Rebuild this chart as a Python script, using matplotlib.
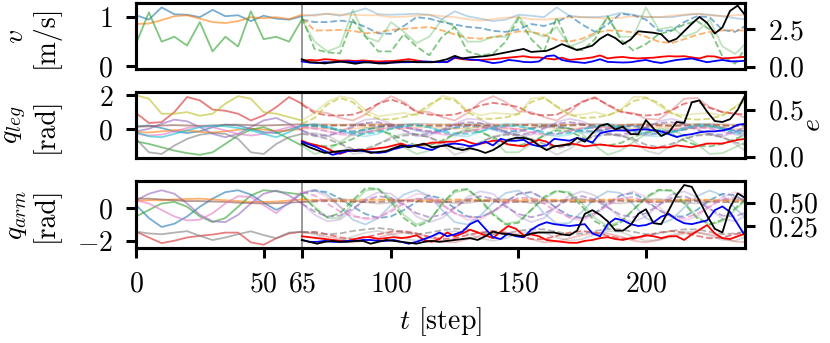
import numpy as np
import matplotlib
matplotlib.use("Agg")
import matplotlib.pyplot as plt

plt.rcParams.update({
    "font.family": "serif",
    "font.serif": ["cmr10"],
    "mathtext.fontset": "cm",
    "axes.formatter.use_mathtext": True,
    "font.size": 20,
    "axes.unicode_minus": True,
})

T_SPLIT = 65   # history / prediction boundary
STEP_Q = 5     # sampling step of joint / velocity curves
STEP_E = 3     # sampling step of error curves

# ---------------- v [m/s] (solid from t=0, dashed from t=65) ----------------
v_blue = [1.04, 0.95, 1.2, 1.06, 1.05, 1.0, 1.15, 1.02, 1.04, 0.92, 1.03, 0.97, 0.95,
          1.02, 1.05, 1.07, 1.03, 1.1, 1.18, 1.06, 1.05, 1.06, 1.07, 1.05, 0.96, 1.12,
          1.02, 0.97, 0.92, 0.95, 1.05, 1.03, 1.0, 1.2, 1.03, 1.0, 1.0, 1.02, 1.09, 1.05,
          1.0, 1.0, 1.0, 1.04, 1.07, 1.05, 1.02, 0.98, 0.95]
v_orange = [0.86, 0.87, 0.94, 1.02, 1.04, 0.97, 0.9, 0.88, 0.92, 1.0, 0.98, 1.0, 0.96,
            1.05, 1.03, 1.07, 1.05, 1.05, 1.04, 1.04, 1.0, 1.01, 1.03, 1.05, 1.02, 1.0,
            0.96, 0.93, 0.96, 0.99, 1.0, 0.96, 0.95, 0.97, 1.0, 1.0, 0.99, 0.97, 0.99, 1.02,
            1.01, 1.0, 1.03, 1.05, 1.07, 1.04, 1.02, 1.04, 1.05]
v_green = [0.46, 1.1, 0.5, 0.6, 0.42, 0.9, 0.3, 0.6, 0.4, 1.12, 0.55, 0.6, 0.5,
           0.95, 0.5, 0.3, 0.4, 1.15, 0.6, 0.5, 0.9, 0.7, 0.47, 0.6, 0.95, 0.8,
           0.5, 0.5, 0.6, 0.6, 1.02, 0.7, 0.6, 0.8, 0.4, 0.5, 0.65, 1.0, 0.6, 0.6,
           1.2, 0.75, 0.8, 0.6, 0.7, 0.95, 0.4, 0.25, 0.5]
v_blue_pred = [0.95, 0.9, 0.9, 0.93, 0.9, 0.8, 0.67, 0.66, 0.82, 1.0, 0.97, 0.9, 0.85,
               0.8, 0.78, 0.72, 0.7, 0.75, 0.86, 0.82, 0.9, 1.03, 0.85, 0.7, 0.85, 1.07,
               1.04, 0.95, 0.72, 0.73, 0.9, 1.02, 1.0, 0.74, 0.7, 0.85]
v_orange_pred = [0.98, 0.73, 0.73, 0.74, 0.72, 0.67, 0.69, 0.74, 0.76, 0.78, 0.8, 0.73,
                 0.65, 0.58, 0.56, 0.59, 0.64, 0.71, 0.7, 0.64, 0.53, 0.5, 0.56, 0.68,
                 0.73, 0.72, 0.69, 0.6, 0.5, 0.47, 0.55, 0.64, 0.7, 0.73, 0.73, 0.73]
v_green_pred = [1.0, 0.35, 0.28, 0.26, 0.95, 0.6, 0.3, 0.3, 0.65, 0.4, 0.22, 0.6, 0.8,
                0.3, 0.22, 0.25, 0.5, 0.98, 0.55, 0.3, 1.0, 0.4, 0.32, 0.55, 1.02, 0.55,
                0.32, 0.45, 0.65, 0.72, 0.85, 0.92, 0.75, 0.2, 0.05, 0.45]

# error e on the velocity panel (from t=65)
e_v_red = [0.40, 0.45, 0.42, 0.50, 0.46, 0.40, 0.42, 0.38, 0.42, 0.38,
           0.35, 0.37, 0.38, 0.44, 0.50, 0.42, 0.33, 0.30, 0.32, 0.30,
           0.58, 0.50, 0.45, 0.44, 0.47, 0.50, 0.55, 0.60, 0.65, 0.70,
           0.62, 0.62, 0.55, 0.48, 0.60, 0.45, 0.50, 0.55, 0.62, 0.75,
           0.55, 0.62, 0.65, 0.58, 0.55, 0.58, 0.60, 0.66, 0.70, 0.68,
           0.70, 0.62, 0.55, 0.70, 0.68, 0.55, 0.58, 0.62, 0.66]
e_v_blue = [0.35, 0.28, 0.25, 0.30, 0.28, 0.33, 0.35, 0.30, 0.33, 0.28,
            0.25, 0.28, 0.27, 0.30, 0.30, 0.33, 0.35, 0.33, 0.30, 0.32,
            0.62, 0.55, 0.48, 0.45, 0.35, 0.24, 0.30, 0.45, 0.40, 0.32,
            0.30, 0.35, 0.70, 0.75, 0.45, 0.35, 0.30, 0.25, 0.35, 0.50,
            0.32, 0.30, 0.28, 0.30, 0.38, 0.45, 0.32, 0.25, 0.35, 0.45,
            0.50, 0.55, 0.42, 0.30, 0.38, 0.45, 0.36, 0.36, 0.40]
e_v_black = [0.50, 0.30, 0.28, 0.22, 0.30, 0.35, 0.28, 0.20, 0.28, 0.30,
             0.22, 0.22, 0.30, 0.33, 0.35, 0.30, 0.30, 0.30, 0.38, 0.50,
             0.72, 0.55, 0.62, 0.66, 0.70, 0.78, 0.88, 0.98, 1.08, 1.18,
             0.98, 1.02, 1.05, 1.25, 1.50, 1.30, 1.10, 1.25, 1.40, 1.85,
             2.15, 1.90, 1.50, 1.80, 2.35, 2.30, 2.25, 2.15, 1.65, 1.85,
             2.35, 2.85, 3.30, 2.90, 2.20, 2.60, 3.70, 4.05, 3.40]

# ---------------- q_leg [rad] ----------------
leg_blue = [0.15, 0.2, 0.05, -0.15, -0.25, -0.15, 0.1, 0.25, 0.2, 0.0, -0.2, -0.25, -0.05,
            0.2, 0.25, 0.1, -0.15, -0.25, -0.1, 0.15, 0.25, 0.15, -0.1, -0.25, -0.15, 0.1,
            0.25, 0.2, -0.05, -0.25, -0.2, 0.05, 0.25, 0.2, 0.0, -0.2, -0.25, 0.0, 0.2, 0.25,
            0.05, -0.2, -0.25, -0.05, 0.2, 0.25, 0.1, -0.15, -0.2]
leg_orange = [-0.2, -0.22, -0.15, -0.08, -0.1, -0.18, -0.22, -0.15, -0.05, 0.0, -0.05, -0.12, -0.1,
              0.0, 0.05, 0.0, -0.05, 0.0, 0.1, 0.05, 0.0, 0.0, 0.08, 0.1, 0.05, 0.0,
              0.05, 0.1, 0.08, 0.0, 0.0, 0.08, 0.1, 0.05, 0.0, 0.05, 0.1, 0.08, 0.0, 0.02,
              0.08, 0.1, 0.05, 0.0, 0.05, 0.1, 0.08, 0.0, 0.02]
leg_green = [-0.75, -0.9, -1.1, -1.3, -1.45, -1.55, -1.4, -0.9, -0.4, -0.05, 0.1, -0.2, -0.6,
             -1.0, -1.5, -1.3, -0.8, -0.3, 0.05, 0.0, -0.4, -1.1, -1.5, -1.3, -0.8, -0.3,
             0.0, -0.1, -0.6, -1.4, -1.4, -0.9, -0.4, 0.0, 0.05, -0.3, -1.0, -1.55, -1.3, -0.8,
             -0.3, 0.0, -0.05, -0.4, -0.9, -1.5, -1.45, -1.1, -0.7]
leg_red = [0.94, 0.35, 0.4, 1.0, 1.9, 1.7, 1.15, 1.08, 0.9, 0.5, 0.8, 1.3, 1.9,
           1.5, 1.05, 0.95, 0.65, 0.5, 0.85, 1.5, 1.95, 1.6, 1.05, 1.0, 0.7, 0.5,
           0.95, 1.6, 1.95, 1.6, 1.05, 1.0, 0.7, 0.5, 0.95, 1.65, 1.9, 1.4, 1.0, 0.95,
           0.6, 0.55, 1.1, 1.8, 1.85, 1.3, 1.0, 0.9, 0.6]
leg_purple = [-0.15, 0.0, 0.3, 0.55, 0.45, 0.1, -0.3, -0.5, -0.3, 0.1, 0.5, 0.65, 0.3,
              -0.1, -0.45, -0.45, -0.2, 0.2, 0.55, 0.6, 0.3, -0.1, -0.45, -0.4, -0.1, 0.3,
              0.6, 0.55, 0.2, -0.2, -0.45, -0.35, 0.0, 0.4, 0.6, 0.45, 0.1, -0.3, -0.45, -0.3,
              0.05, 0.45, 0.6, 0.4, 0.0, -0.35, -0.45, -0.2, 0.2]
leg_brown = [0.12, 0.15, 0.2, 0.22, 0.2, 0.18, 0.2, 0.24, 0.25, 0.22, 0.2, 0.22, 0.25,
             0.27, 0.28, 0.26, 0.25, 0.27, 0.3, 0.28, 0.26, 0.27, 0.3, 0.29, 0.26, 0.26,
             0.29, 0.3, 0.27, 0.25, 0.27, 0.3, 0.29, 0.26, 0.26, 0.29, 0.3, 0.27, 0.25, 0.27,
             0.3, 0.29, 0.26, 0.26, 0.29, 0.3, 0.27, 0.25, 0.27]
leg_pink = [-0.3, -0.4, -0.35, -0.15, 0.05, 0.15, 0.1, -0.1, -0.3, -0.4, -0.3, -0.1, 0.1,
            0.15, 0.05, -0.15, -0.35, -0.4, -0.25, -0.05, 0.1, 0.15, 0.0, -0.2, -0.35, -0.4,
            -0.2, 0.0, 0.12, 0.12, -0.05, -0.25, -0.4, -0.35, -0.15, 0.05, 0.15, 0.1, -0.1, -0.3,
            -0.4, -0.3, -0.1, 0.1, 0.15, 0.05, -0.15, -0.35, -0.4]
leg_gray = [-0.6, -1.4, -1.5, -1.0, -0.6, -0.35, -0.25, -0.3, -0.6, -1.4, -1.5, -0.9, -0.5,
            -0.3, -0.25, -0.4, -0.8, -1.5, -1.4, -0.9, -0.5, -0.3, -0.3, -0.5, -0.9, -1.55,
            -1.3, -0.8, -0.45, -0.3, -0.35, -0.6, -1.1, -1.55, -1.2, -0.7, -0.4, -0.3, -0.4, -0.7,
            -1.3, -1.5, -1.0, -0.6, -0.35, -0.3, -0.5, -0.9, -1.4]
leg_olive = [2.0, 1.8, 0.9, 0.9, 1.0, 0.78, 0.9, 1.5, 1.95, 1.8, 1.0, 0.9, 0.7,
             0.5, 0.95, 1.6, 1.95, 1.8, 1.1, 0.75, 0.85, 0.95, 0.8, 1.3, 1.97, 1.8,
             1.1, 0.8, 0.95, 0.9, 0.85, 1.8, 1.9, 1.3, 0.85, 0.85, 1.0, 0.8, 1.1, 1.9,
             1.9, 1.4, 0.9, 0.82, 0.9, 0.95, 0.8, 1.3, 1.95]
leg_cyan = [-0.2, -0.45, -0.5, -0.3, -0.1, 0.1, 0.2, 0.15, 0.05, -0.1, -0.3, -0.5, -0.2,
            0.2, 0.3, 0.15, -0.1, -0.35, -0.45, -0.3, 0.0, 0.25, 0.3, 0.1, -0.2, -0.4,
            -0.45, -0.2, 0.1, 0.3, 0.25, 0.0, -0.3, -0.45, -0.35, -0.05, 0.2, 0.3, 0.15, -0.15,
            -0.4, -0.45, -0.25, 0.05, 0.28, 0.25, 0.0, -0.3, -0.45]

leg_blue_pred = [0.2, 0.15, 0.05, -0.1, -0.15, -0.05, 0.1, 0.15, 0.1, -0.05, -0.15, -0.1,
                 0.05, 0.15, 0.12, 0.0, -0.15, -0.12, 0.02, 0.15, 0.12, 0.0, -0.12, -0.15,
                 0.0, 0.12, 0.15, 0.05, -0.1, -0.15, -0.05, 0.1, 0.15, 0.05, -0.1, -0.12]
leg_orange_pred = [0.1, 0.22, 0.25, 0.22, 0.2, 0.22, 0.25, 0.25, 0.22, 0.2, 0.22, 0.25,
                   0.25, 0.22, 0.2, 0.22, 0.25, 0.25, 0.22, 0.2, 0.22, 0.25, 0.25, 0.22,
                   0.2, 0.22, 0.25, 0.25, 0.22, 0.2, 0.22, 0.25, 0.25, 0.22, 0.2, 0.22]
leg_green_pred = [-0.85, -0.95, -1.05, -0.9, -0.6, -0.2, -0.1, -0.3, -0.7, -1.0, -1.0, -0.7,
                  -0.3, -0.1, -0.2, -0.5, -0.9, -1.0, -0.8, -0.4, -0.1, -0.15, -0.5, -0.9,
                  -1.0, -0.85, -0.5, -0.2, -0.1, -0.3, -0.7, -1.0, -1.05, -0.9, -0.6, -0.3]
leg_red_pred = [1.45, 0.95, 0.8, 0.8, 0.85, 1.1, 1.5, 1.75, 1.5, 1.0, 0.85, 0.8,
                0.85, 1.1, 1.4, 1.55, 1.45, 1.3, 0.9, 0.8, 0.85, 1.2, 1.6, 1.85,
                1.45, 1.05, 0.88, 0.8, 0.85, 1.1, 1.5, 1.65, 1.25, 1.0, 0.9, 0.85]
leg_purple_pred = [-0.1, -0.35, -0.4, -0.2, 0.1, 0.35, 0.4, 0.2, -0.1, -0.35, -0.3, -0.05,
                   0.25, 0.4, 0.35, 0.1, -0.2, -0.35, -0.25, 0.05, 0.3, 0.4, 0.3, 0.0,
                   -0.25, -0.35, -0.2, 0.1, 0.35, 0.4, 0.25, -0.05, -0.3, -0.35, -0.15, 0.15]
leg_brown_pred = [0.25, 0.2, 0.18, 0.2, 0.22, 0.2, 0.17, 0.18, 0.22, 0.22, 0.18, 0.17,
                  0.2, 0.22, 0.2, 0.17, 0.18, 0.21, 0.22, 0.19, 0.17, 0.19, 0.22, 0.21,
                  0.18, 0.17, 0.2, 0.22, 0.2, 0.17, 0.18, 0.21, 0.22, 0.19, 0.17, 0.19]
leg_pink_pred = [0.1, 0.0, -0.15, -0.28, -0.3, -0.2, -0.05, 0.05, 0.08, -0.02, -0.15, -0.28,
                 -0.3, -0.15, 0.0, 0.08, 0.06, -0.05, -0.2, -0.3, -0.28, -0.12, 0.02, 0.08,
                 0.05, -0.08, -0.22, -0.3, -0.25, -0.08, 0.05, 0.08, 0.02, -0.12, -0.25, -0.3]
leg_gray_pred = [-0.3, -0.4, -0.6, -0.9, -1.2, -1.2, -0.9, -0.6, -0.4, -0.35, -0.5, -0.8,
                 -1.15, -1.1, -0.8, -0.5, -0.35, -0.4, -0.6, -0.9, -1.15, -1.0, -0.7, -0.45,
                 -0.35, -0.4, -0.6, -0.95, -1.1, -0.9, -0.6, -0.4, -0.35, -0.5, -0.8, -1.0]
leg_olive_pred = [0.3, 0.65, 1.45, 1.85, 1.6, 0.9, 0.6, 0.55, 0.7, 0.9, 1.45, 1.85,
                  1.7, 1.0, 0.6, 0.6, 0.68, 0.9, 1.6, 1.85, 1.35, 0.85, 0.65, 0.68,
                  0.8, 1.1, 1.65, 1.85, 1.55, 0.95, 0.62, 0.55, 0.6, 0.8, 1.3, 1.75]
leg_cyan_pred = [0.2, 0.2, 0.1, -0.05, -0.25, -0.3, -0.2, 0.0, 0.15, 0.2, 0.08, -0.12,
                 -0.28, -0.3, -0.15, 0.05, 0.18, 0.15, 0.0, -0.2, -0.3, -0.25, -0.05, 0.12,
                 0.2, 0.1, -0.1, -0.28, -0.3, -0.18, 0.02, 0.18, 0.15, 0.0, -0.2, -0.3]

e_leg_red = [0.17, 0.14, 0.12, 0.10, 0.06, 0.03, 0.06, 0.07, 0.07, 0.08,
             0.09, 0.10, 0.12, 0.14, 0.11, 0.12, 0.13, 0.15, 0.15, 0.16,
             0.16, 0.18, 0.15, 0.13, 0.15, 0.17, 0.17, 0.13, 0.12, 0.11,
             0.15, 0.18, 0.16, 0.11, 0.12, 0.14, 0.13, 0.11, 0.12, 0.13,
             0.12, 0.11, 0.11, 0.12, 0.11, 0.10, 0.09, 0.10, 0.10, 0.12,
             0.11, 0.10, 0.12, 0.14, 0.14, 0.14, 0.16, 0.18, 0.19]
e_leg_blue = [0.16, 0.13, 0.10, 0.06, 0.02, 0.04, 0.06, 0.07, 0.06, 0.05,
              0.04, 0.05, 0.08, 0.10, 0.12, 0.11, 0.09, 0.07, 0.11, 0.13,
              0.14, 0.13, 0.11, 0.13, 0.16, 0.12, 0.19, 0.17, 0.17, 0.18,
              0.13, 0.11, 0.12, 0.19, 0.18, 0.17, 0.20, 0.18, 0.15, 0.25,
              0.27, 0.28, 0.28, 0.28, 0.29, 0.29, 0.28, 0.27, 0.24, 0.21,
              0.23, 0.24, 0.26, 0.27, 0.27, 0.28, 0.30, 0.34, 0.35]
e_leg_black = [0.14, 0.10, 0.07, 0.04, 0.05, 0.06, 0.07, 0.06, 0.07, 0.04,
               0.05, 0.06, 0.09, 0.12, 0.10, 0.12, 0.14, 0.10, 0.11, 0.12,
               0.09, 0.07, 0.09, 0.07, 0.04, 0.07, 0.12, 0.18, 0.20, 0.20,
               0.18, 0.12, 0.07, 0.11, 0.12, 0.13, 0.20, 0.16, 0.25, 0.33,
               0.35, 0.29, 0.32, 0.24, 0.24, 0.39, 0.30, 0.22, 0.26, 0.37,
               0.36, 0.58, 0.60, 0.48, 0.38, 0.37, 0.40, 0.50, 0.66]

# ---------------- q_arm [rad] ----------------
arm_blue = [0.2, -0.6, -1.15, -0.95, -0.5, 0.1, 0.6, 1.0, 1.12, 0.85, 0.35, -0.1, 0.3,
            0.95, 1.15, 0.85, 0.1, -0.7, -1.0, -0.6, 0.2, 0.85, 1.13, 0.75, -0.1, -0.85,
            -1.0, -0.45, 0.35, 0.95, 1.1, 0.6, -0.3, -0.95, -0.9, -0.2, 0.6, 1.05, 0.95, 0.25,
            -0.6, -1.0, -0.7, 0.05, 0.75, 1.1, 0.8, 0.0, -0.7]
arm_orange = [0.47, 0.5, 0.5, 0.55, 0.58, 0.6, 0.55, 0.5, 0.45, 0.4, 0.4, 0.42, 0.48,
              0.55, 0.5, 0.48, 0.45, 0.44, 0.46, 0.5, 0.52, 0.5, 0.46, 0.44, 0.45, 0.48,
              0.52, 0.5, 0.47, 0.44, 0.45, 0.49, 0.52, 0.5, 0.46, 0.44, 0.46, 0.5, 0.52, 0.49,
              0.45, 0.44, 0.47, 0.51, 0.52, 0.48, 0.45, 0.45, 0.48]
arm_green = [-0.5, -0.1, 0.3, 0.4, 0.1, -0.5, -0.85, -0.6, 0.1, 0.8, 1.12, 1.05, 0.95,
             0.85, 0.1, -0.6, -0.6, 0.3, 1.1, 1.2, 0.6, -0.4, -1.0, -0.7, 0.2, 1.0,
             1.15, 0.6, -0.3, -0.95, -0.8, -0.1, 0.6, 1.05, 1.0, 0.3, -0.6, -1.1, -0.8, -0.1,
             0.6, 1.1, 1.1, 0.4, -0.5, -1.0, -0.8, -0.1, 0.6]
arm_red = [-1.44, -1.8, -2.15, -2.0, -1.8, -1.7, -1.62, -1.5, -1.5, -2.1, -2.25, -1.85, -1.55,
           -1.45, -1.55, -1.75, -1.9, -2.1, -2.0, -1.8, -1.6, -1.5, -1.55, -1.8, -2.05, -2.1,
           -1.9, -1.7, -1.55, -1.5, -1.65, -1.9, -2.1, -2.05, -1.85, -1.65, -1.5, -1.55, -1.75, -2.0,
           -2.1, -1.95, -1.75, -1.55, -1.5, -1.6, -1.85, -2.05, -2.1]
arm_purple = [0.5, 0.9, 1.12, 0.9, 0.3, -0.4, -0.8, -0.85, -0.4, 0.3, 0.9, 1.1, 0.8,
              0.3, -0.4, -0.8, -0.7, -0.1, 0.6, 1.0, 0.9, 0.3, -0.5, -0.85, -0.6, 0.0,
              0.7, 1.05, 0.9, 0.2, -0.5, -0.85, -0.6, 0.1, 0.8, 1.05, 0.8, 0.1, -0.6, -0.85,
              -0.5, 0.2, 0.85, 1.05, 0.7, 0.0, -0.65, -0.8, -0.4]
arm_brown = [0.6, 0.6, 0.55, 0.5, 0.45, 0.45, 0.42, 0.4, 0.35, 0.32, 0.3, 0.32, 0.35,
             0.4, 0.45, 0.55, 0.6, 0.5, 0.38, 0.3, 0.35, 0.48, 0.58, 0.55, 0.42, 0.32,
             0.33, 0.45, 0.57, 0.56, 0.44, 0.33, 0.32, 0.43, 0.56, 0.58, 0.46, 0.34, 0.31, 0.4,
             0.54, 0.58, 0.48, 0.35, 0.31, 0.38, 0.52, 0.58, 0.5]
arm_pink = [0.5, 0.3, -0.1, -0.5, -0.75, -0.7, -0.3, 0.3, 0.75, 0.7, 0.2, -0.3, 0.4,
            1.0, 1.1, 0.7, 0.1, -0.4, -0.7, -0.6, -0.1, 0.5, 0.9, 0.8, 0.3, -0.3,
            -0.7, -0.7, -0.2, 0.4, 0.9, 1.0, 0.6, 0.0, -0.6, -0.75, -0.4, 0.2, 0.8, 1.05,
            0.7, 0.1, -0.5, -0.75, -0.5, 0.1, 0.7, 1.0, 0.8]
arm_gray = [-1.44, -1.55, -1.6, -1.5, -1.41, -1.7, -1.96, -1.8, -1.6, -1.42, -1.65, -1.85, -1.5,
            -1.45, -1.6, -1.9, -2.0, -1.75, -1.5, -1.4, -1.6, -1.85, -2.0, -1.8, -1.55, -1.4,
            -1.55, -1.85, -2.0, -1.85, -1.55, -1.4, -1.5, -1.8, -2.0, -1.9, -1.6, -1.4, -1.45, -1.75,
            -2.0, -1.95, -1.65, -1.45, -1.45, -1.7, -1.95, -2.0, -1.7]

arm_blue_pred = [0.9, 1.1, 1.0, 0.6, 0.1, -0.35, -0.6, -0.5, -0.1, 0.4, 0.8, 0.6,
                 0.0, -0.5, -0.55, -0.2, 0.4, 0.9, 1.0, 0.6, 0.0, -0.45, -0.6, -0.3,
                 0.3, 0.8, 0.95, 0.5, -0.1, -0.5, -0.5, -0.1, 0.5, 0.9, 0.8, 0.3]
arm_orange_pred = [0.55, 0.52, 0.5, 0.5, 0.52, 0.54, 0.55, 0.53, 0.5, 0.49, 0.5, 0.53,
                   0.55, 0.54, 0.51, 0.49, 0.5, 0.52, 0.55, 0.55, 0.52, 0.5, 0.5, 0.52,
                   0.54, 0.55, 0.53, 0.5, 0.49, 0.51, 0.54, 0.55, 0.53, 0.5, 0.5, 0.52]
arm_green_pred = [0.85, 0.0, -0.55, -0.3, 0.5, 1.25, 1.2, 0.4, -0.6, -1.13, -0.8, 0.3,
                  1.1, 1.2, 0.5, -0.4, -1.0, -0.9, -0.1, 0.7, 1.1, 0.9, 0.1, -0.8,
                  -1.2, -0.9, -0.1, 0.7, 1.15, 1.1, 0.3, -0.6, -1.0, -0.7, 0.0, 0.7]
arm_red_pred = [-1.5, -1.45, -1.6, -1.8, -1.9, -1.8, -1.6, -1.45, -1.4, -1.55, -1.75, -1.9,
                -1.85, -1.65, -1.5, -1.4, -1.5, -1.7, -1.9, -1.9, -1.7, -1.5, -1.4, -1.5,
                -1.7, -1.85, -1.9, -1.7, -1.5, -1.4, -1.5, -1.7, -1.85, -1.8, -1.6, -1.45]
arm_purple_pred = [0.3, -0.2, -0.5, -0.45, 0.0, 0.5, 0.75, 0.65, 0.2, -0.3, -0.55, -0.4,
                   0.05, 0.55, 0.75, 0.6, 0.1, -0.35, -0.55, -0.35, 0.1, 0.6, 0.75, 0.55,
                   0.05, -0.4, -0.55, -0.3, 0.2, 0.65, 0.75, 0.45, -0.05, -0.45, -0.5, -0.2]
arm_brown_pred = [0.4, 0.42, 0.45, 0.43, 0.4, 0.38, 0.4, 0.44, 0.46, 0.43, 0.39, 0.38,
                  0.41, 0.45, 0.46, 0.42, 0.38, 0.39, 0.43, 0.46, 0.44, 0.4, 0.38, 0.4,
                  0.44, 0.46, 0.43, 0.39, 0.38, 0.41, 0.45, 0.46, 0.42, 0.38, 0.39, 0.43]
arm_pink_pred = [1.0, 0.8, 0.3, -0.2, -0.5, -0.6, -0.55, -0.2, 0.3, 0.6, 0.6, 0.2,
                 -0.3, -0.55, -0.55, -0.2, 0.3, 0.65, 0.65, 0.3, -0.2, -0.55, -0.6, -0.3,
                 0.2, 0.6, 0.7, 0.4, -0.1, -0.5, -0.6, -0.35, 0.1, 0.55, 0.7, 0.5]
arm_gray_pred = [-1.45, -1.5, -1.6, -1.55, -1.4, -1.3, -1.22, -1.3, -1.5, -1.6, -1.5, -1.35,
                 -1.25, -1.3, -1.5, -1.6, -1.55, -1.4, -1.28, -1.3, -1.45, -1.6, -1.55, -1.4,
                 -1.28, -1.3, -1.45, -1.6, -1.55, -1.4, -1.3, -1.3, -1.45, -1.6, -1.55, -1.4]

e_arm_red = [0.14, 0.13, 0.12, 0.11, 0.10, 0.09, 0.09, 0.11, 0.13, 0.13,
             0.11, 0.12, 0.13, 0.12, 0.13, 0.15, 0.10, 0.08, 0.11, 0.18,
             0.14, 0.17, 0.21, 0.18, 0.15, 0.12, 0.19, 0.25, 0.22, 0.15,
             0.16, 0.14, 0.10, 0.09, 0.08, 0.07, 0.07, 0.09, 0.10, 0.12,
             0.13, 0.11, 0.10, 0.12, 0.13, 0.15, 0.14, 0.12, 0.14, 0.14,
             0.10, 0.16, 0.21, 0.26, 0.17, 0.12, 0.11, 0.14, 0.17]
e_arm_blue = [0.10, 0.08, 0.08, 0.09, 0.08, 0.08, 0.09, 0.09, 0.10, 0.10,
              0.09, 0.09, 0.10, 0.08, 0.06, 0.08, 0.11, 0.14, 0.18, 0.14,
              0.16, 0.19, 0.27, 0.31, 0.22, 0.13, 0.11, 0.17, 0.14, 0.13,
              0.21, 0.26, 0.29, 0.27, 0.26, 0.25, 0.26, 0.27, 0.17, 0.14,
              0.27, 0.33, 0.31, 0.27, 0.25, 0.26, 0.29, 0.35, 0.38, 0.32,
              0.28, 0.27, 0.29, 0.31, 0.42, 0.46, 0.40, 0.27, 0.14]
e_arm_black = [0.10, 0.08, 0.06, 0.08, 0.09, 0.08, 0.08, 0.09, 0.09, 0.06,
               0.08, 0.10, 0.09, 0.08, 0.07, 0.06, 0.08, 0.09, 0.08, 0.09,
               0.10, 0.11, 0.12, 0.10, 0.14, 0.19, 0.17, 0.16, 0.15, 0.14,
               0.17, 0.18, 0.18, 0.18, 0.16, 0.15, 0.20, 0.38, 0.42, 0.37,
               0.30, 0.20, 0.20, 0.26, 0.38, 0.43, 0.28, 0.27, 0.42, 0.58,
               0.69, 0.67, 0.52, 0.36, 0.22, 0.18, 0.45, 0.60, 0.55]

LW = 1.3


def plot_joint(ax, color, solid, pred):
    solid = np.array(solid)
    t = np.arange(len(solid)) * STEP_Q
    past = t <= T_SPLIT
    ax.plot(t[past], solid[past], color=color, alpha=0.6, lw=LW)
    ax.plot(t[t >= T_SPLIT], solid[t >= T_SPLIT], color=color, alpha=0.3, lw=LW)
    tp = T_SPLIT + np.arange(len(pred)) * STEP_Q
    ax.plot(tp, pred, color=color, alpha=0.6, lw=LW, ls="--")


def plot_errors(ax, red, blue, black):
    for vals, c in [(red, "red"), (blue, "blue"), (black, "black")]:
        te = T_SPLIT + np.arange(len(vals)) * STEP_E
        ax.plot(te, vals, color=c, lw=LW)


def style(ax, ax2, ylim, yticks, ylim2, yticks2, label):
    ax.set_xlim(0, 239)
    ax.set_ylim(*ylim)
    ax.set_yticks(yticks)
    ax2.set_ylim(*ylim2)
    ax2.set_yticks(yticks2)
    ax.axvline(T_SPLIT, color="#888888", lw=1.2, zorder=0)
    for a in (ax, ax2):
        for s in a.spines.values():
            s.set_linewidth(2.2)
        a.tick_params(length=7.5, width=2.2, pad=9)
    ax.set_ylabel(label, linespacing=1.1)
    ax.yaxis.set_label_coords(-0.125, 0.5)


fig = plt.figure(figsize=(8.3, 3.43), dpi=100)
L, W = 0.164, 0.734
ax_v = fig.add_axes([L, 0.7988, W, 0.1924])
ax_l = fig.add_axes([L, 0.5394, W, 0.1924], sharex=ax_v)
ax_a = fig.add_axes([L, 0.2770, W, 0.1953], sharex=ax_v)
ax_v2, ax_l2, ax_a2 = ax_v.twinx(), ax_l.twinx(), ax_a.twinx()

# velocity panel
for c, s, p in [("C0", v_blue, v_blue_pred), ("C1", v_orange, v_orange_pred),
                ("C2", v_green, v_green_pred)]:
    plot_joint(ax_v, c, s, p)
plot_errors(ax_v2, e_v_red, e_v_blue, e_v_black)

# leg panel
leg = [(leg_blue, leg_blue_pred), (leg_orange, leg_orange_pred), (leg_green, leg_green_pred),
       (leg_red, leg_red_pred), (leg_purple, leg_purple_pred), (leg_brown, leg_brown_pred),
       (leg_pink, leg_pink_pred), (leg_gray, leg_gray_pred), (leg_olive, leg_olive_pred),
       (leg_cyan, leg_cyan_pred)]
for i, (s, p) in enumerate(leg):
    plot_joint(ax_l, f"C{i}", s, p)
plot_errors(ax_l2, e_leg_red, e_leg_blue, e_leg_black)

# arm panel
arm = [(arm_blue, arm_blue_pred), (arm_orange, arm_orange_pred), (arm_green, arm_green_pred),
       (arm_red, arm_red_pred), (arm_purple, arm_purple_pred), (arm_brown, arm_brown_pred),
       (arm_pink, arm_pink_pred), (arm_gray, arm_gray_pred)]
for i, (s, p) in enumerate(arm):
    plot_joint(ax_a, f"C{i}", s, p)
plot_errors(ax_a2, e_arm_red, e_arm_blue, e_arm_black)

style(ax_v, ax_v2, (-0.06, 1.29), [0, 1], (-0.15, 4.22), [0, 2.5], "$v$\n[m/s]")
style(ax_l, ax_l2, (-1.74, 2.2), [0, 2], (-0.014, 0.69), [0, 0.5], "$q_{leg}$\n[rad]")
style(ax_a, ax_a2, (-2.45, 1.69), [-2, 0], (0.014, 0.733), [0.25, 0.5], "$q_{arm}$\n[rad]")

ax_l2.set_ylabel("$e$")
ax_l2.yaxis.set_label_coords(1.09, 0.5)

for a in (ax_v, ax_l):
    a.tick_params(axis="x", bottom=False, labelbottom=False)
ax_a.set_xticks([0, 50, 65, 100, 150, 200])
ax_a.set_xlabel("$t$ [step]", labelpad=6)

fig.savefig("out.png", dpi=100)
